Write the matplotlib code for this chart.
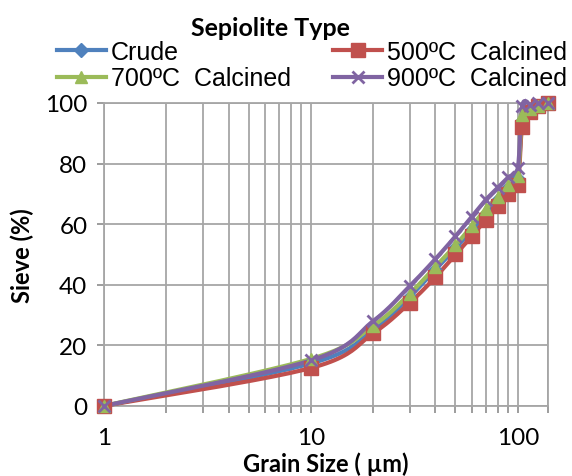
import numpy as np
import matplotlib
matplotlib.use("Agg")
import matplotlib.pyplot as plt
from matplotlib.ticker import FixedLocator, NullFormatter, FixedFormatter

# grain size (um) and cumulative passing (%) for each sepiolite type
grain_size = [1, 10, 20, 30, 40, 50, 60, 70, 80, 90, 100, 105, 115, 125, 140]
crude = [0, 14, 25, 36, 45, 52, 58, 63, 68, 72, 75, 94, 97, 99, 100]
calc_500 = [0, 12.5, 24, 34, 42.5, 50, 56, 61.5, 66, 70, 73, 92, 97, 99, 100]
calc_700 = [0, 15.5, 26.5, 37, 46, 53, 59.5, 65, 69, 73, 76, 96, 98, 99, 100]
calc_900 = [0, 15, 28, 39.5, 48.5, 56, 62.5, 68, 72, 75.5, 78.5, 99, 99.5, 100, 100]

labels = ["Crude", "500ºC  Calcined", "700ºC  Calcined", "900ºC  Calcined"]
colors = ["#4F81BD", "#C0504D", "#9BBB59", "#8064A2"]
markers = ["D", "s", "^", "x"]
msizes = [7, 10, 9, 9]

CAL = "Lato"


def smooth(x, y, n=24):
    # bezier smoothing like a spreadsheet "smoothed line", done in log-x space
    u = np.log10(np.asarray(x, float))
    v = np.asarray(y, float)
    P = np.column_stack([u, v])
    P = np.vstack([P[0], P, P[-1]])
    out = []
    t = np.linspace(0, 1, n)[:, None]
    for i in range(1, len(P) - 2):
        p0, p1, p2, p3 = P[i - 1], P[i], P[i + 1], P[i + 2]
        b1 = p1 + (p2 - p0) / 6
        b2 = p2 - (p3 - p1) / 6
        seg = ((1 - t) ** 3) * p1 + 3 * ((1 - t) ** 2) * t * b1 + 3 * (1 - t) * t ** 2 * b2 + t ** 3 * p2
        out.append(seg if i == 1 else seg[1:])
    pts = np.vstack(out)
    return 10 ** pts[:, 0], pts[:, 1]


fig = plt.figure(figsize=(5.72, 4.77), dpi=100)
ax = fig.add_axes([0.182, 0.147, 0.776, 0.635])

handles = []
for yv, lab, c, m, ms in zip([crude, calc_500, calc_700, calc_900], labels, colors, markers, msizes):
    sx, sy = smooth(grain_size, yv)
    ax.plot(sx, sy, color=c, lw=3, solid_capstyle="round", zorder=3, clip_on=False)
    mew = 2 if m == "x" else 1
    ax.plot(grain_size, yv, ls="none", marker=m, ms=ms, color=c, mec=c, mew=mew,
            zorder=4, clip_on=False)
    h, = ax.plot([], [], color=c, lw=3, marker=m, ms=ms, mec=c, mew=mew)
    handles.append(h)

ax.set_xscale("log")
ax.set_xlim(1, 140)
ax.set_ylim(0, 100)
ax.set_yticks(range(0, 101, 20))

ax.xaxis.set_major_locator(FixedLocator([1, 10, 100]))
ax.xaxis.set_major_formatter(FixedFormatter(["1", "10", "100"]))
minor = [2, 3, 4, 5, 6, 7, 8, 9, 20, 30, 40, 50, 60, 70, 80, 90, 140]
ax.xaxis.set_minor_locator(FixedLocator(minor))
ax.xaxis.set_minor_formatter(NullFormatter())

grid_c = "#a6a6a6"
ax.grid(True, which="both", axis="x", color=grid_c, lw=1.3)
ax.grid(True, which="major", axis="y", color=grid_c, lw=1.3)
ax.set_axisbelow(True)
for s in ax.spines.values():
    s.set_color(grid_c)
    s.set_linewidth(1.3)

ax.tick_params(axis="both", which="both", direction="out", color="#8c8c8c",
               length=5, width=1.2, labelsize=17.5, labelcolor="black")
ax.tick_params(axis="x", which="major", pad=10)
ax.tick_params(axis="y", pad=7)
for lab in ax.get_xticklabels() + ax.get_yticklabels():
    lab.set_family(CAL)

ax.set_xlabel("Grain Size ( µm)", family=CAL, fontweight="bold", fontsize=17, labelpad=3)
ax.set_ylabel("Sieve (%)", family=CAL, fontweight="bold", fontsize=17, labelpad=8)

fig.text(270 / 572, 1 - 28 / 477, "Sepiolite Type", family=CAL, fontweight="bold",
         fontsize=18, ha="center", va="center")

order = [0, 2, 1, 3]
fig.legend([handles[i] for i in order], [labels[i] for i in order], ncol=2,
           loc="upper left", bbox_to_anchor=(57 / 572, 1 - 41 / 477),
           frameon=False, prop={"family": "Liberation Sans", "size": 18},
           handlelength=1.95, handletextpad=0.2, columnspacing=1.7,
           labelspacing=0.1, borderpad=0, borderaxespad=0)

fig.savefig("out.png", dpi=100)
